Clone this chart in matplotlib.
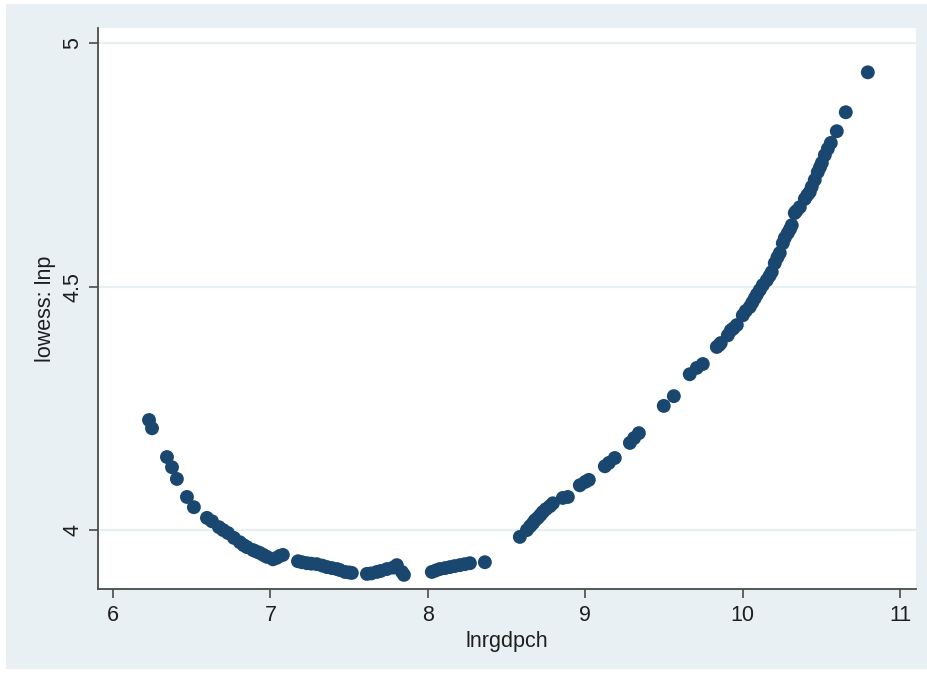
import matplotlib
matplotlib.use("Agg")
import matplotlib.pyplot as plt
from matplotlib.patches import Rectangle

# Lowess-smoothed log price level against log real GDP per capita
lnrgdpch = [
    6.229, 6.248, 6.343, 6.375, 6.406, 6.470, 6.514, 6.597, 6.629, 6.673,
    6.730, 6.768, 6.806, 6.851, 6.889, 6.933, 6.978, 7.016, 7.060, 7.079,
    7.175, 7.232, 7.295, 7.359, 7.422, 7.473, 7.517, 7.613, 7.676, 7.740,
    7.803, 7.835, 7.848, 8.025, 8.076, 8.140, 8.203, 8.267, 8.362, 8.584,
    8.629, 8.667, 8.698, 8.730, 8.775, 8.794, 8.857, 8.889, 8.965, 9.022,
    9.124, 9.187, 9.283, 9.340, 9.498, 9.562, 9.663, 9.708, 9.746, 9.835,
    9.860, 9.905, 9.962, 10.000, 10.044, 10.076, 10.108, 10.152, 10.184, 10.203,
    10.235, 10.254, 10.286, 10.311, 10.330, 10.362, 10.425, 10.457, 10.476, 10.502,
    10.521, 10.559, 10.597, 10.654, 10.794,
    9.924, 10.019, 10.127, 10.267, 10.394, 10.438,
    6.700, 6.830, 6.910, 6.955, 7.040, 7.200, 7.260, 7.330, 7.390, 7.440,
    7.500, 7.640, 7.700, 7.780, 8.050, 8.110, 8.170, 8.235, 8.650, 8.680,
    8.715, 8.750, 9.000, 9.150, 9.310, 9.850, 9.940, 10.060, 10.090, 10.170,
    10.220, 10.300, 10.340, 10.410, 10.490, 10.540,
]
lowess_lnp = [
    4.226, 4.209, 4.150, 4.129, 4.105, 4.068, 4.047, 4.025, 4.018, 4.006,
    3.994, 3.984, 3.975, 3.965, 3.959, 3.953, 3.945, 3.940, 3.947, 3.949,
    3.936, 3.932, 3.930, 3.924, 3.920, 3.914, 3.912, 3.910, 3.914, 3.920,
    3.928, 3.914, 3.908, 3.914, 3.920, 3.924, 3.928, 3.932, 3.934, 3.986,
    4.000, 4.014, 4.025, 4.037, 4.049, 4.055, 4.066, 4.068, 4.092, 4.103,
    4.131, 4.148, 4.179, 4.199, 4.255, 4.275, 4.320, 4.333, 4.341, 4.376,
    4.384, 4.400, 4.421, 4.441, 4.458, 4.476, 4.493, 4.513, 4.530, 4.548,
    4.569, 4.589, 4.610, 4.626, 4.651, 4.663, 4.694, 4.719, 4.735, 4.754,
    4.770, 4.795, 4.819, 4.858, 4.940,
    4.410, 4.450, 4.503, 4.600, 4.680, 4.705,
    4.000, 3.969, 3.956, 3.949, 3.943, 3.934, 3.931, 3.927, 3.922, 3.918,
    3.913, 3.911, 3.916, 3.923, 3.917, 3.922, 3.926, 3.930, 4.008, 4.020,
    4.031, 4.043, 4.099, 4.138, 4.189, 4.380, 4.414, 4.467, 4.484, 4.522,
    4.560, 4.618, 4.655, 4.688, 4.745, 4.783,
]

x_ticks = [6, 7, 8, 9, 10, 11]
y_ticks = [4, 4.5, 5]
y_tick_labels = ["4", "4.5", "5"]

W, H = 928, 679
plt.rcParams["font.family"] = ["Liberation Sans", "DejaVu Sans"]

fig = plt.figure(figsize=(W / 100, H / 100), dpi=100, facecolor="white")

# graph region background, kept behind the axes
fig.patches.append(Rectangle((6 / W, 10 / H), 922 / W, 665 / H,
                             transform=fig.transFigure, facecolor="#e9f0f3",
                             edgecolor="none", zorder=-10))

ax = fig.add_axes([98 / W, 90 / H, 818 / W, 561 / H])
ax.set_zorder(1)
ax.set_facecolor("white")

ax.scatter(lnrgdpch, lowess_lnp, s=100, color="#1a476f", edgecolors="none",
           zorder=3)

ax.set_xlim(5.905, 11.10)
ax.set_ylim(3.879, 5.031)

ax.set_xticks(x_ticks)
ax.set_yticks(y_ticks)
ax.set_yticklabels(y_tick_labels, rotation=90, va="center")

ax.grid(axis="y", color="#e8eff2", linewidth=1.6, zorder=1)
ax.grid(axis="x", visible=False)

for side in ("top", "right"):
    ax.spines[side].set_visible(False)
for side in ("left", "bottom"):
    ax.spines[side].set_color("#4a4a4a")
    ax.spines[side].set_linewidth(1.3)

ax.tick_params(axis="both", direction="out", length=6.5, width=1.2,
               color="#4a4a4a", labelsize=15.5, labelcolor="#1e1e1e")
ax.tick_params(axis="x", pad=5)
ax.tick_params(axis="y", pad=4)

ax.set_xlabel("lnrgdpch", fontsize=15.5, color="#1e1e1e", va="center")
ax.set_ylabel("lowess: lnp", fontsize=15.5, color="#1e1e1e", va="center")
ax.xaxis.set_label_coords(0.5, -52 / 561)
ax.yaxis.set_label_coords(-53 / 818, 0.5)

fig.savefig("out.png", dpi=100, facecolor="white")
